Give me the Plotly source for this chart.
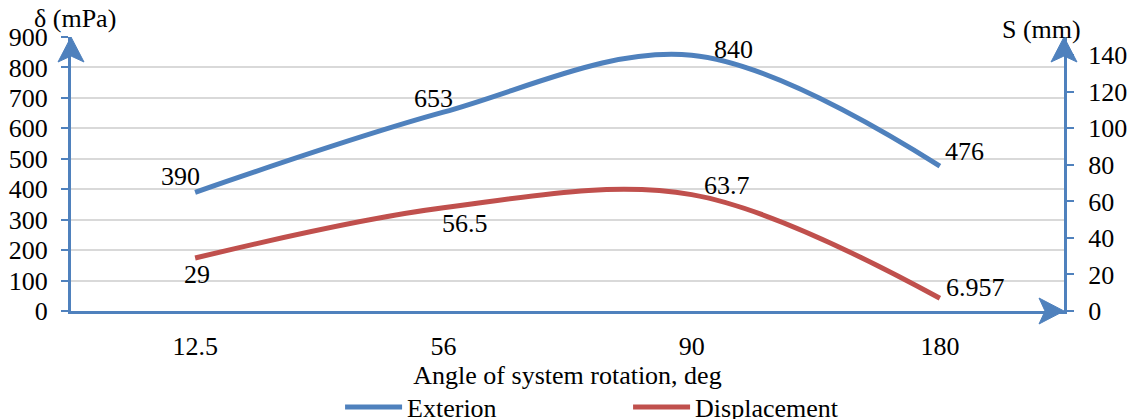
import plotly.graph_objects as go

categories = ["12.5", "56", "90", "180"]
exterion = [390, 653, 840, 476]
displacement = [29, 56.5, 63.7, 6.957]
exterion_labels = ["390", "653", "840", "476"]
displacement_labels = ["29", "56.5", "63.7", "6.957"]

BLUE = "#4F81BD"
RED = "#C0504D"
AXIS = "#4F81BD"
FONT = "Liberation Serif"
FS = 26

W, H = 1133, 419
ML, MR, MT, MB = 71, 69, 37, 108
PW = W - ML - MR
PH = H - MT - MB

fig = go.Figure()
fig.add_trace(go.Scatter(
    x=categories, y=exterion, name="Exterion", mode="lines",
    line=dict(color=BLUE, width=5, shape="spline", smoothing=1),
    yaxis="y"))
fig.add_trace(go.Scatter(
    x=categories, y=displacement, name="Displacement", mode="lines",
    line=dict(color=RED, width=5, shape="spline", smoothing=1),
    yaxis="y2"))

# data labels (offsets in pixels); x given as category index
ext_off = [(-15, 16), (-10, 14), (42, 6), (25, 15)]
dis_off = [(2, -16), (22, -16), (35, 9), (36, 11)]
for i, (v, t, (dx, dy)) in enumerate(zip(exterion, exterion_labels, ext_off)):
    fig.add_annotation(x=i, y=v, xref="x", yref="y", text=t, showarrow=False,
                       xshift=dx, yshift=dy, font=dict(family=FONT, size=FS, color="black"))
for i, (v, t, (dx, dy)) in enumerate(zip(displacement, displacement_labels, dis_off)):
    fig.add_annotation(x=i, y=v, xref="x", yref="y2", text=t, showarrow=False,
                       xshift=dx, yshift=dy, font=dict(family=FONT, size=FS, color="black"))

# axis unit labels
fig.add_annotation(x=-39 / PW, y=1 + 19 / PH, xref="paper", yref="paper", text="δ (mPa)",
                   showarrow=False, xanchor="left", yanchor="middle",
                   font=dict(family=FONT, size=FS, color="black"))
fig.add_annotation(x=1 + 19 / PW, y=1 + 7 / PH, xref="paper", yref="paper", text="S (mm)",
                   showarrow=False, xanchor="right", yanchor="middle",
                   font=dict(family=FONT, size=FS, color="black"))

# arrowheads
def up_arrow(px):
    return (f"M {px},1 L {px - 13 / PW},{1 - 25 / PH} L {px},{1 - 19 / PH} "
            f"L {px + 13 / PW},{1 - 25 / PH} Z")

right_arrow = (f"M 1,0 L {1 - 25 / PW},{13 / PH} L {1 - 19 / PW},0 "
               f"L {1 - 25 / PW},{-13 / PH} Z")
for p in [up_arrow(0), up_arrow(1), right_arrow]:
    fig.add_shape(type="path", path=p, xref="paper", yref="paper",
                  fillcolor=AXIS, line=dict(color=AXIS, width=1), layer="above")

fig.update_layout(
    width=W, height=H,
    margin=dict(l=ML, r=MR, t=MT, b=MB, autoexpand=False),
    paper_bgcolor="white", plot_bgcolor="white",
    font=dict(family=FONT, size=FS, color="black"),
    showlegend=True,
    legend=dict(orientation="h", x=0.561, xanchor="center", y=-96 / PH, yanchor="middle",
                font=dict(family=FONT, size=FS, color="black"),
                entrywidth=216, entrywidthmode="pixels",
                itemwidth=57, bgcolor="rgba(0,0,0,0)"),
    xaxis=dict(
        type="category", range=[-0.5, 3.5], automargin=False,
        showline=True, linecolor=AXIS, linewidth=3,
        showgrid=False, ticks="", ticklabelstandoff=10,
        title=dict(text="Angle of system rotation, deg", standoff=2,
                   font=dict(family=FONT, size=FS, color="black")),
        tickfont=dict(family=FONT, size=FS, color="black"),
    ),
    yaxis=dict(
        range=[0, 900], dtick=100, tick0=0, automargin=False,
        showline=True, linecolor=AXIS, linewidth=3,
        showgrid=True, gridcolor="#D9D9D9", gridwidth=2,
        zeroline=False,
        ticks="outside", ticklen=7, tickwidth=2, tickcolor=AXIS,
        ticklabelstandoff=8,
        tickfont=dict(family=FONT, size=FS, color="black"),
    ),
    yaxis2=dict(
        range=[0, 150], dtick=20, tick0=0, automargin=False,
        overlaying="y", side="right", anchor="x",
        showline=True, linecolor=AXIS, linewidth=3,
        showgrid=False, zeroline=False,
        ticks="outside", ticklen=7, tickwidth=2, tickcolor=AXIS,
        ticklabelstandoff=9,
        tickfont=dict(family=FONT, size=FS, color="black"),
    ),
)

fig.write_html("out.html")
